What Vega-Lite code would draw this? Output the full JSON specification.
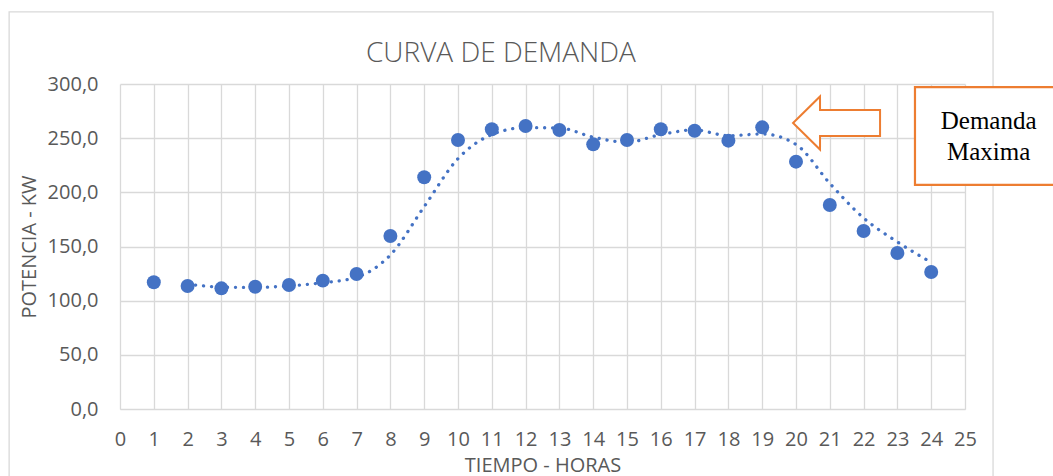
{
  "$schema": "https://vega.github.io/schema/vega-lite/v6.json",
  "width": 845,
  "height": 325,
  "autosize": {"type": "none"},
  "padding": {"left": 120, "top": 84, "right": 88, "bottom": 67},
  "background": "white",
  "config": {
    "view": {"stroke": null},
    "axis": {
      "labelFont": "Open Sans",
      "labelFontSize": 20,
      "labelColor": "#595959",
      "titleFont": "Open Sans",
      "titleFontSize": 20,
      "titleFontWeight": "normal",
      "titleColor": "#595959",
      "gridColor": "#D9D9D9",
      "gridWidth": 1.3,
      "domainColor": "#D9D9D9",
      "ticks": false
    }
  },
  "datasets": {
    "demanda": [
      {"hora": 1, "potencia": 117.0, "tendencia": null},
      {"hora": 2, "potencia": 113.5, "tendencia": 115.3},
      {"hora": 3, "potencia": 111.4, "tendencia": 112.5},
      {"hora": 4, "potencia": 112.9, "tendencia": 112.2},
      {"hora": 5, "potencia": 114.5, "tendencia": 113.7},
      {"hora": 6, "potencia": 118.5, "tendencia": 116.5},
      {"hora": 7, "potencia": 124.6, "tendencia": 121.6},
      {"hora": 8, "potencia": 159.7, "tendencia": 142.2},
      {"hora": 9, "potencia": 213.9, "tendencia": 186.8},
      {"hora": 10, "potencia": 248.3, "tendencia": 231.1},
      {"hora": 11, "potencia": 258.2, "tendencia": 253.3},
      {"hora": 12, "potencia": 261.2, "tendencia": 259.7},
      {"hora": 13, "potencia": 257.5, "tendencia": 259.4},
      {"hora": 14, "potencia": 244.3, "tendencia": 250.9},
      {"hora": 15, "potencia": 248.3, "tendencia": 246.3},
      {"hora": 16, "potencia": 258.2, "tendencia": 253.3},
      {"hora": 17, "potencia": 256.9, "tendencia": 257.6},
      {"hora": 18, "potencia": 247.7, "tendencia": 252.3},
      {"hora": 19, "potencia": 260.0, "tendencia": 253.9},
      {"hora": 20, "potencia": 228.3, "tendencia": 244.2},
      {"hora": 21, "potencia": 188.3, "tendencia": 208.3},
      {"hora": 22, "potencia": 164.3, "tendencia": 176.3},
      {"hora": 23, "potencia": 144.0, "tendencia": 154.2},
      {"hora": 24, "potencia": 126.5, "tendencia": 135.3}
    ]
  },
  "layer": [
    {
      "data": {"values": [{}]},
      "mark": {"type": "rect", "fillOpacity": 0, "stroke": "#D9D9D9", "strokeWidth": 1.3, "clip": false},
      "encoding": {
        "x": {
          "datum": -3.28, "type": "quantitative",
          "scale": {"domain": [0, 25], "nice": false, "zero": false},
          "axis": {"values": [0,1,2,3,4,5,6,7,8,9,10,11,12,13,14,15,16,17,18,19,20,21,22,23,24,25], "tickCount": 30, "title": "TIEMPO - HORAS", "labelPadding": 20, "titlePadding": 6, "grid": true, "labelFlush": false, "labelOverlap": false, "labelSeparation": 0, "labelBound": false}
        },
        "x2": {"datum": 25.83},
        "y": {
          "datum": 366.5, "type": "quantitative",
          "scale": {"domain": [0, 300], "nice": false, "zero": false},
          "axis": {"values": [0, 50, 100, 150, 200, 250, 300], "tickCount": 10, "title": "POTENCIA - KW", "labelPadding": 22, "titlePadding": 8, "grid": true, "domain": false, "labelOverlap": false, "labelExpr": "replace(format(datum.value, '.1f'), '.', ',')"}
        },
        "y2": {"datum": -80}
      }
    },
    {
      "data": {"values": [{}]},
      "mark": {"type": "text", "text": "CURVA DE DEMANDA", "font": "Open Sans", "fontSize": 28, "fontWeight": 300, "color": "#595959", "align": "center", "baseline": "alphabetic", "clip": false},
      "encoding": {
        "x": {"datum": 11.27, "type": "quantitative"},
        "y": {"datum": 320.3, "type": "quantitative"}
      }
    },
    {
      "data": {"name": "demanda"},
      "mark": {"type": "line", "color": "#4472C4", "strokeWidth": 3.3, "strokeDash": [0.1, 7.9], "strokeCap": "round", "interpolate": "monotone"},
      "encoding": {
        "x": {"field": "hora", "type": "quantitative"},
        "y": {"field": "tendencia", "type": "quantitative"}
      }
    },
    {
      "data": {"name": "demanda"},
      "mark": {"type": "circle", "color": "#4472C4", "size": 195, "opacity": 1},
      "encoding": {
        "x": {"field": "hora", "type": "quantitative"},
        "y": {"field": "potencia", "type": "quantitative"}
      }
    },
    {
      "data": {"values": [{}]},
      "mark": {"type": "point", "shape": "M-1,0L-0.38,-0.61L-0.38,-0.3L1,-0.3L1,0.3L-0.38,0.3L-0.38,0.61Z", "size": 7569, "filled": true, "fill": "white", "stroke": "#ED7D31", "strokeWidth": 2, "opacity": 1, "clip": false},
      "encoding": {
        "x": {"datum": 21.2, "type": "quantitative"},
        "y": {"datum": 264.0, "type": "quantitative"}
      }
    },
    {
      "data": {"values": [{}]},
      "mark": {"type": "rect", "fill": "white", "stroke": "#ED7D31", "strokeWidth": 2.2, "clip": false},
      "encoding": {
        "x": {"datum": 23.52, "type": "quantitative"},
        "x2": {"datum": 28.5},
        "y": {"datum": 297.2, "type": "quantitative"},
        "y2": {"datum": 206.8}
      }
    },
    {
      "data": {"values": [{}]},
      "mark": {"type": "text", "text": ["Demanda", "Maxima"], "font": "Liberation Serif", "fontSize": 25, "lineHeight": 31, "color": "#000000", "align": "center", "baseline": "alphabetic", "clip": false},
      "encoding": {
        "x": {"datum": 25.7, "type": "quantitative"},
        "y": {"datum": 258.5, "type": "quantitative"}
      }
    }
  ]
}
